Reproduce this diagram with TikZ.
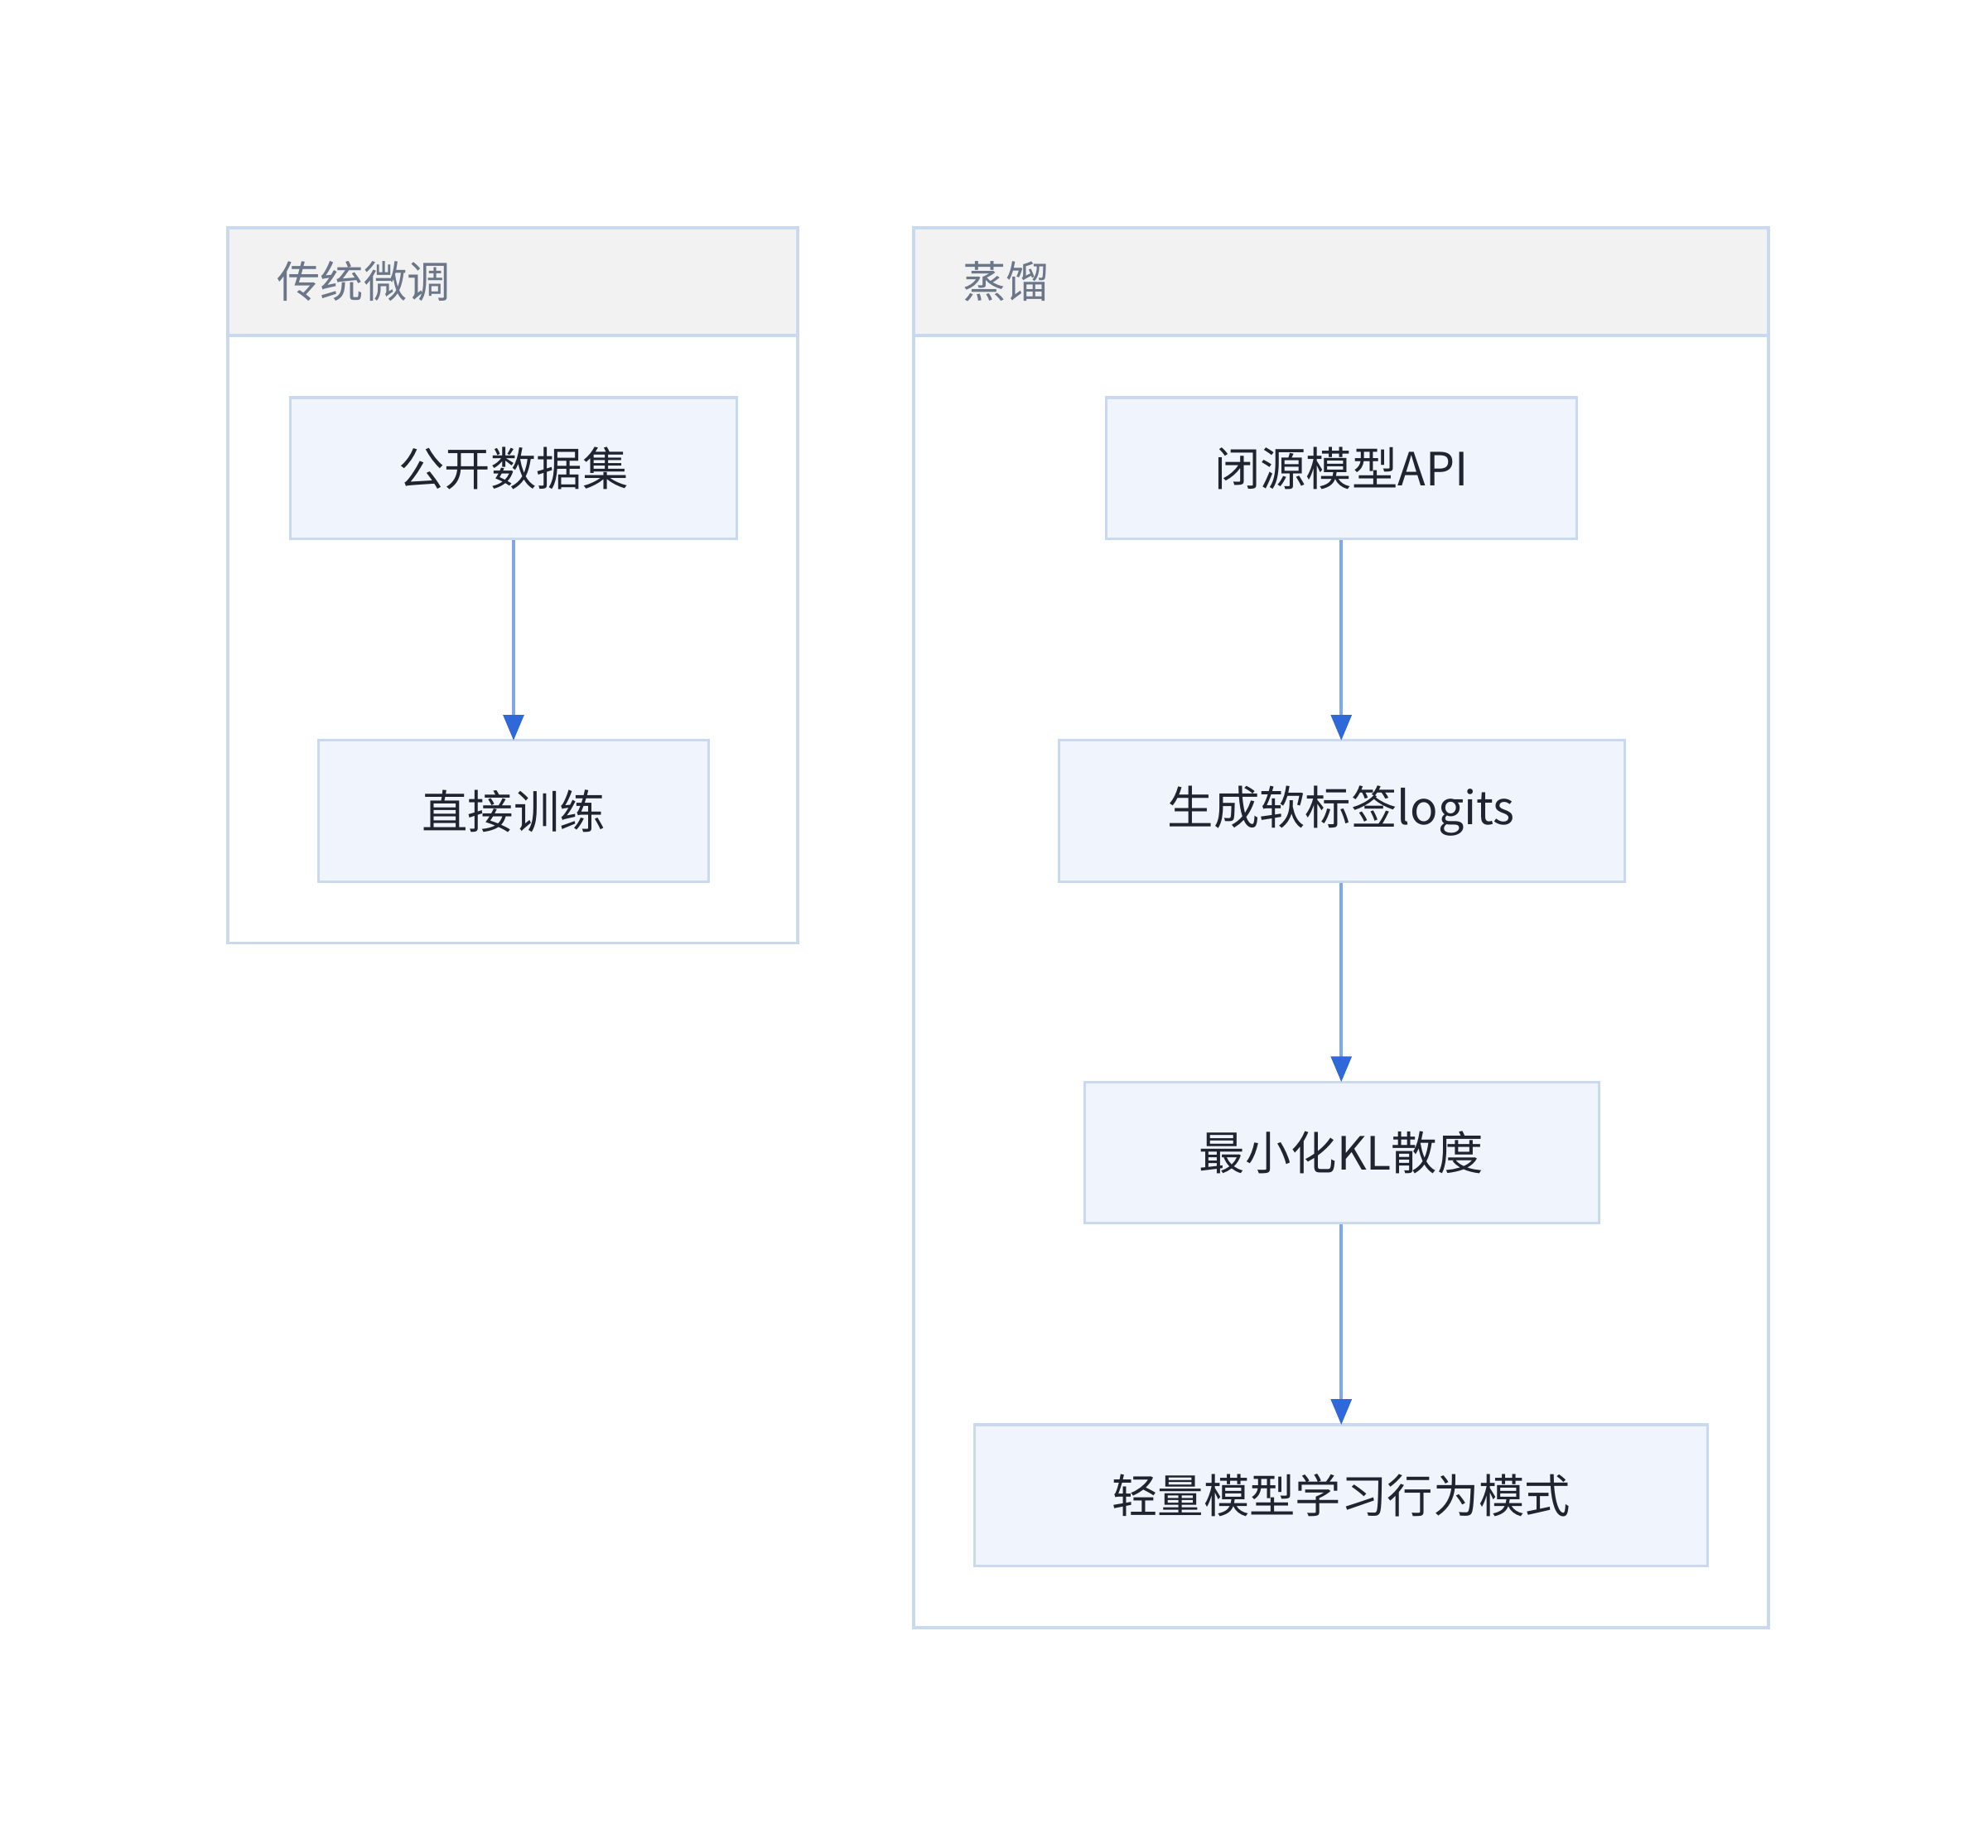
\documentclass[tikz,border=0pt]{standalone}
\usepackage{fontspec}
\setmainfont{Noto Sans CJK SC}
\usetikzlibrary{arrows.meta}
\definecolor{bd}{HTML}{C9D9F0}
\definecolor{nf}{HTML}{F0F5FD}
\definecolor{hf}{HTML}{F2F2F2}
\definecolor{ht}{HTML}{6B7689}
\definecolor{tx}{HTML}{1F2430}
\definecolor{ln}{HTML}{7FA6EE}
\definecolor{ah}{HTML}{2F68D8}
\begin{document}
\begin{tikzpicture}[x=1pt,y=-1pt,
 box/.style={draw=bd,line width=2pt,fill=nf},
 cont/.style={draw=bd,line width=2.5pt},
 hdr/.style={draw=bd,line width=2.5pt,fill=hf},
 lab/.style={font=\fontsize{36}{40}\selectfont,text=tx},
 hlab/.style={font=\fontsize{34}{38}\selectfont,text=ht,anchor=west},
 arr/.style={draw=ln,line width=2.5pt,-{Triangle[length=20pt,width=16pt,fill=ah,color=ah]}}]
\useasboundingbox[fill=white] (0,0) rectangle (1560,1450);
% containers
\draw[cont] (179,179) rectangle (626,740);
\draw[hdr] (179,179) rectangle (626,263);
\node[hlab] (h1) at (214,221) {传统微调};
\draw[cont] (717,179) rectangle (1388,1277);
\draw[hdr] (717,179) rectangle (1388,263);
\node[hlab] (h2) at (752,221) {蒸馏};
% nodes
\draw[box] (228,312) rectangle (578,423); \node[lab] (a) at (403,367.5) {公开数据集};
\draw[box] (250,581) rectangle (556,692); \node[lab] (b) at (403,636.5) {直接训练};
\draw[box] (868,312) rectangle (1237,423); \node[lab] (c) at (1052.5,367.5) {闭源模型API};
\draw[box] (831,581) rectangle (1275,692); \node[lab] (d) at (1052.5,636.5) {生成软标签logits};
\draw[box] (851,849) rectangle (1255,960); \node[lab] (e) at (1052.5,904.5) {最小化KL散度};
\draw[box] (765,1118) rectangle (1340,1229); \node[lab] (f) at (1052.5,1173.5) {轻量模型学习行为模式};
\coordinate (a1) at (403,424); \coordinate (b1) at (403,581);
\coordinate (c1) at (1052.5,424); \coordinate (d0) at (1052.5,581);
\coordinate (d1) at (1052.5,693); \coordinate (e0) at (1052.5,849);
\coordinate (e1) at (1052.5,961); \coordinate (f0) at (1052.5,1118);
\draw[arr] (a1) -- (b1);
\draw[arr] (c1) -- (d0);
\draw[arr] (d1) -- (e0);
\draw[arr] (e1) -- (f0);
\end{tikzpicture}
\end{document}
